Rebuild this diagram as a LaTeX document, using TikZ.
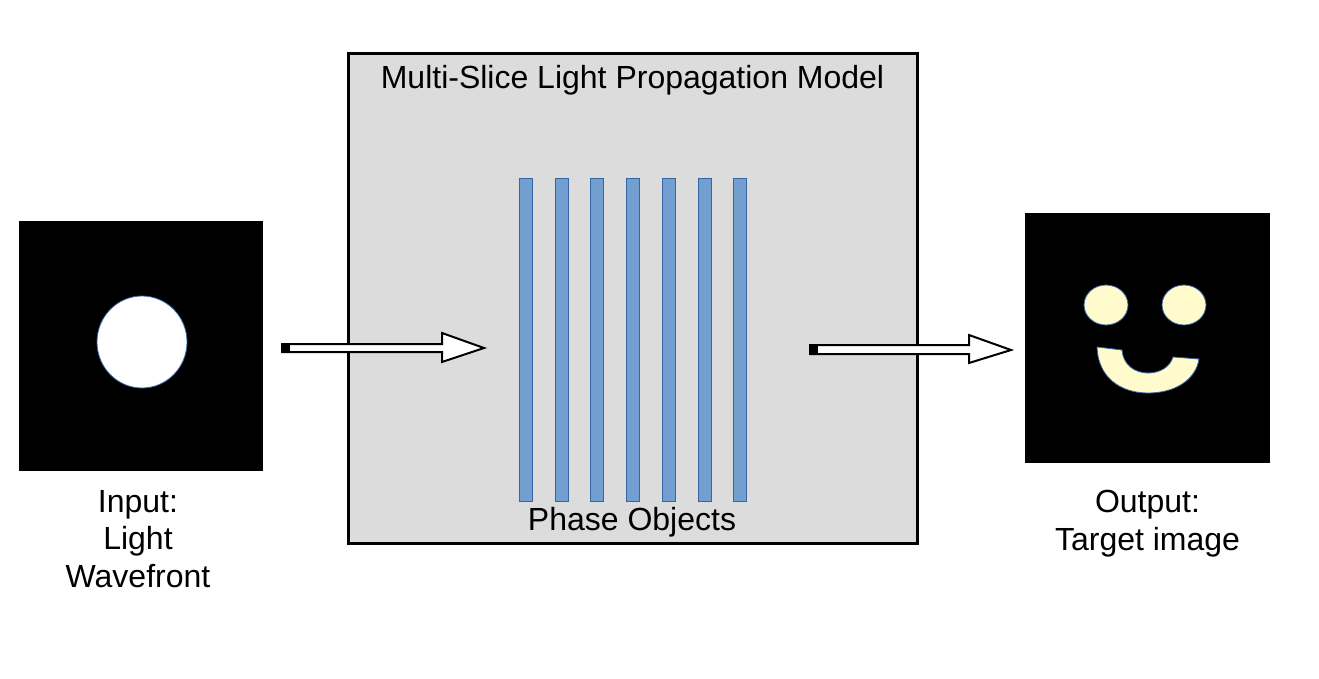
\documentclass[tikz,border=0pt]{standalone}
\usepackage{fontspec}
\setmainfont{Liberation Sans}
\usepackage{tikz}
\usetikzlibrary{calc,positioning}
\definecolor{panelgray}{HTML}{DCDCDC}
\definecolor{slicefill}{HTML}{729FCF}
\definecolor{sliceline}{HTML}{3465A4}
\definecolor{smilefill}{HTML}{FFFBCC}
\tikzset{
  label/.style={font=\fontsize{32}{37.5}\selectfont, align=center, inner sep=0pt},
  slice/.style={draw=sliceline, fill=slicefill, line width=1pt},
  fatarrow/.style={draw=black, fill=white, line width=2pt, line join=miter},
}
\begin{document}
\begin{tikzpicture}[x=1pt,y=-1pt]
				\useasboundingbox (0,0) rectangle (1319,678);
				% input wavefront
				\node[fill=black, minimum width=244pt, minimum height=250pt, inner sep=0pt] (input) at (141,346) {};
				\draw[fill=white, draw=sliceline, line width=0.8pt] (input.center) ++(1,-4) ellipse [x radius=45, y radius=46];
				\node[label, below=19pt of input, xshift=-3pt] (inlabel) {Input:\\Light\\Wavefront};
				% model
				\node[draw=black, fill=panelgray, line width=3pt, minimum width=569pt, minimum height=490pt, inner sep=0pt] (model) at (632.5,298) {};
				\node[label, below=14pt of model.north] (title) {Multi-Slice Light Propagation Model};
				\foreach \x in {519,555,590,626,662,698,733}
				\draw[slice] (\x,178) rectangle ++(13,323);
				\node[label] (phase) at (632,522) {Phase Objects};
				% output image
				\node[fill=black, minimum width=245pt, minimum height=250pt, inner sep=0pt] (output) at (1147.5,338) {};
				\draw[fill=smilefill, draw=sliceline, line width=0.8pt] (1106,305) ellipse [x radius=22, y radius=20];
				\draw[fill=smilefill, draw=sliceline, line width=0.8pt] (1184,305) ellipse [x radius=22, y radius=20];
				\draw[fill=smilefill, draw=sliceline, line width=0.8pt]
				(1097,347) .. controls (1098,377) and (1120,393) .. (1148,393)
				.. controls (1176,393) and (1196,379) .. (1199,359) -- (1173,357)
				.. controls (1170,367) and (1160,373) .. (1148,373)
				.. controls (1135,373) and (1123,365) .. (1122,350) -- cycle;
				\node[label, below=27pt of output] (outlabel) {Output:\\Target image};
				% arrows
				\draw[fatarrow] (282,344) -- (442,344) -- (442,333) -- (484,348) -- (442,362) -- (442,352) -- (282,352) -- cycle;
				\fill (282,344) rectangle (290,352);
				\draw[fatarrow] (810,345) -- (969,345) -- (969,335) -- (1011,350) -- (969,363) -- (969,354) -- (810,354) -- cycle;
				\fill (810,345) rectangle (818,354);
\end{tikzpicture}
\end{document}
